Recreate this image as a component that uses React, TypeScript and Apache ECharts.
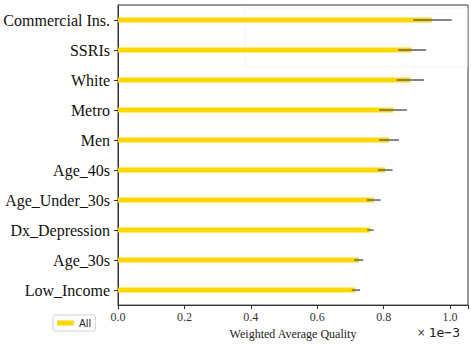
import React, { useEffect, useRef } from "react";
import * as echarts from "echarts";

const categories = [
  "Commercial Ins.",
  "SSRIs",
  "White",
  "Metro",
  "Men",
  "Age_40s",
  "Age_Under_30s",
  "Dx_Depression",
  "Age_30s",
  "Low_Income",
];
const values = [0.945, 0.884, 0.88, 0.829, 0.816, 0.804, 0.771, 0.759, 0.725, 0.715];
const errLow = [0.889, 0.844, 0.839, 0.787, 0.787, 0.783, 0.749, 0.751, 0.711, 0.704];
const errHigh = [1.005, 0.928, 0.922, 0.87, 0.846, 0.827, 0.791, 0.77, 0.739, 0.729];
const xTicks = [0, 0.2, 0.4, 0.6, 0.8, 1.0];

const SERIF = "'Liberation Serif', 'Times New Roman', Times, serif";

export default function App() {
  const ref = useRef<HTMLDivElement>(null);
  useEffect(() => {
    if (!ref.current) return;
    const chart = echarts.init(ref.current, undefined, { renderer: "svg" });
    const errData = categories.map((_, i) => [i, errLow[i], errHigh[i]]);
    chart.setOption({
      animation: false,
      grid: {
        left: 118,
        right: 3,
        top: 5,
        bottom: 35,
        show: true,
        borderColor: "#333",
        borderWidth: 1,
        backgroundColor: "transparent",
      },
      legend: {
        data: ["All"],
        left: 53,
        top: 315,
        orient: "vertical",
        itemWidth: 17,
        itemHeight: 5,
        itemGap: 4,
        padding: [3, 4, 3, 4],
        borderColor: "#d0d0d0",
        borderWidth: 1,
        borderRadius: 2,
        textStyle: { fontFamily: "'DejaVu Sans'", fontSize: 10, color: "#222" },
      },
      xAxis: {
        type: "value",
        min: 0,
        max: 1.054,
        interval: 0.2,
        splitLine: { show: false },
        axisLine: { show: true, lineStyle: { color: "#333" } },
        axisTick: { show: true, length: 4, lineStyle: { color: "#333" } },
        axisLabel: {
          fontFamily: SERIF,
          fontSize: 12,
          color: "#333",
          margin: 6,
          formatter: (v: number) =>
            xTicks.some((t) => Math.abs(t - v) < 1e-6) ? v.toFixed(1) : "",
        },
        name: "Weighted Average Quality",
        nameLocation: "middle",
        nameGap: 22,
        nameTextStyle: { fontFamily: SERIF, fontSize: 12, color: "#222" },
      },
      yAxis: {
        type: "category",
        data: categories,
        inverse: true,
        axisLine: { show: true, lineStyle: { color: "#333" } },
        axisTick: { show: true, alignWithLabel: true, length: 4, lineStyle: { color: "#333" } },
        axisLabel: {
          fontFamily: SERIF,
          fontSize: 16,
          color: "#111",
          margin: 8,
        },
      },
      series: [
        {
          name: "All",
          type: "bar",
          data: values,
          barWidth: 5,
          itemStyle: { color: "#FFD700" },
        },
        {
          name: "err",
          type: "custom",
          data: errData,
          encode: { y: 0, x: [1, 2] },
          z: 5,
          renderItem: (params: any, api: any) => {
            const c = api.value(0);
            const p1 = api.coord([api.value(1), c]);
            const p2 = api.coord([api.value(2), c]);
            return {
              type: "line",
              shape: { x1: p1[0], y1: p1[1], x2: p2[0], y2: p2[1] },
              style: { stroke: "#6f6f6f", lineWidth: 2, opacity: 0.85 },
            };
          },
        },
      ],
      graphic: [
        {
          type: "rect",
          shape: { x: 245, y: 8, width: 222, height: 59 },
          style: { fill: "none", stroke: "#f3f3f3", lineWidth: 1 },
          silent: true,
        },
        {
          type: "text",
          left: 417,
          top: 326,
          style: {
            text: "{a|×} {b|1e−3}",
            rich: {
              a: { fontFamily: "'DejaVu Sans'", fontSize: 10, fill: "#333" },
              b: { fontFamily: "'DejaVu Sans Mono'", fontSize: 13, fill: "#222" },
            },
          },
        },
      ],
    });
    return () => chart.dispose();
  }, []);
  return (
    <div
      ref={ref}
      style={{ position: "fixed", left: 0, top: 0, width: 471, height: 345, background: "#fff" }}
    />
  );
}
